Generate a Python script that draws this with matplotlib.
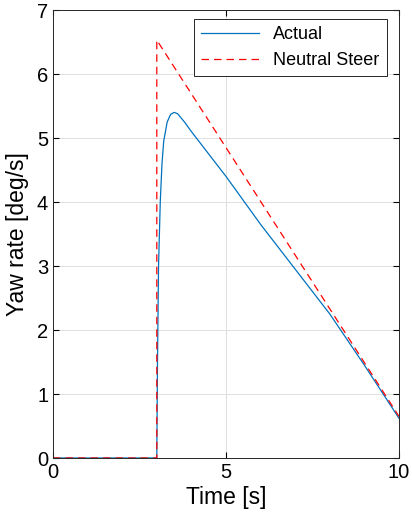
import matplotlib
matplotlib.use("Agg")
import matplotlib.pyplot as plt

plt.rcParams['font.family'] = ['Liberation Sans', 'DejaVu Sans']

# Actual yaw rate response
t_actual = [0, 3.0, 3.02, 3.05, 3.1, 3.15, 3.2, 3.3, 3.4, 3.5, 3.6, 3.8, 4.0,
            5.0, 6.0, 7.0, 8.0, 9.0, 10.0]
r_actual = [0, 0, 1.5, 3.0, 4.0, 4.6, 4.95, 5.25, 5.37, 5.40, 5.38, 5.25, 5.1,
            4.4, 3.65, 2.95, 2.25, 1.45, 0.62]

# Neutral steer reference
t_neutral = [0, 3.0, 3.0, 10.0]
r_neutral = [0, 0, 6.53, 0.65]

fig = plt.figure(figsize=(4.12, 5.25), dpi=100)
ax = fig.add_axes([53/412, 67/525, 346/412, 448/525])

ax.plot(t_actual, r_actual, color='#0072BD', lw=0.9, label='Actual')
ax.plot(t_neutral, r_neutral, color='#FF0000', lw=0.9, ls=(0, (6, 4)), label='Neutral Steer')

ax.set_xlim(0, 10)
ax.set_ylim(0, 7)
ax.set_xticks([0, 5, 10])
ax.set_yticks(range(8))
ax.grid(True, color='#DFDFDF', lw=0.7)
ax.set_axisbelow(True)
ax.tick_params(direction='in', labelsize=14.5, top=True, right=True, length=4)
for s in ax.spines.values():
    s.set_color('#262626')
    s.set_linewidth(0.7)
ax.set_xlabel('Time [s]', fontsize=16.5, labelpad=3)
ax.set_ylabel('Yaw rate [deg/s]', fontsize=16.5, labelpad=6)

leg = ax.legend(loc='upper right', bbox_to_anchor=(0.965, 0.98), fontsize=13,
                fancybox=False, framealpha=1, edgecolor='#262626',
                handlelength=3.2, borderaxespad=0)
leg.get_frame().set_linewidth(0.7)

fig.savefig('out.png', dpi=100)
